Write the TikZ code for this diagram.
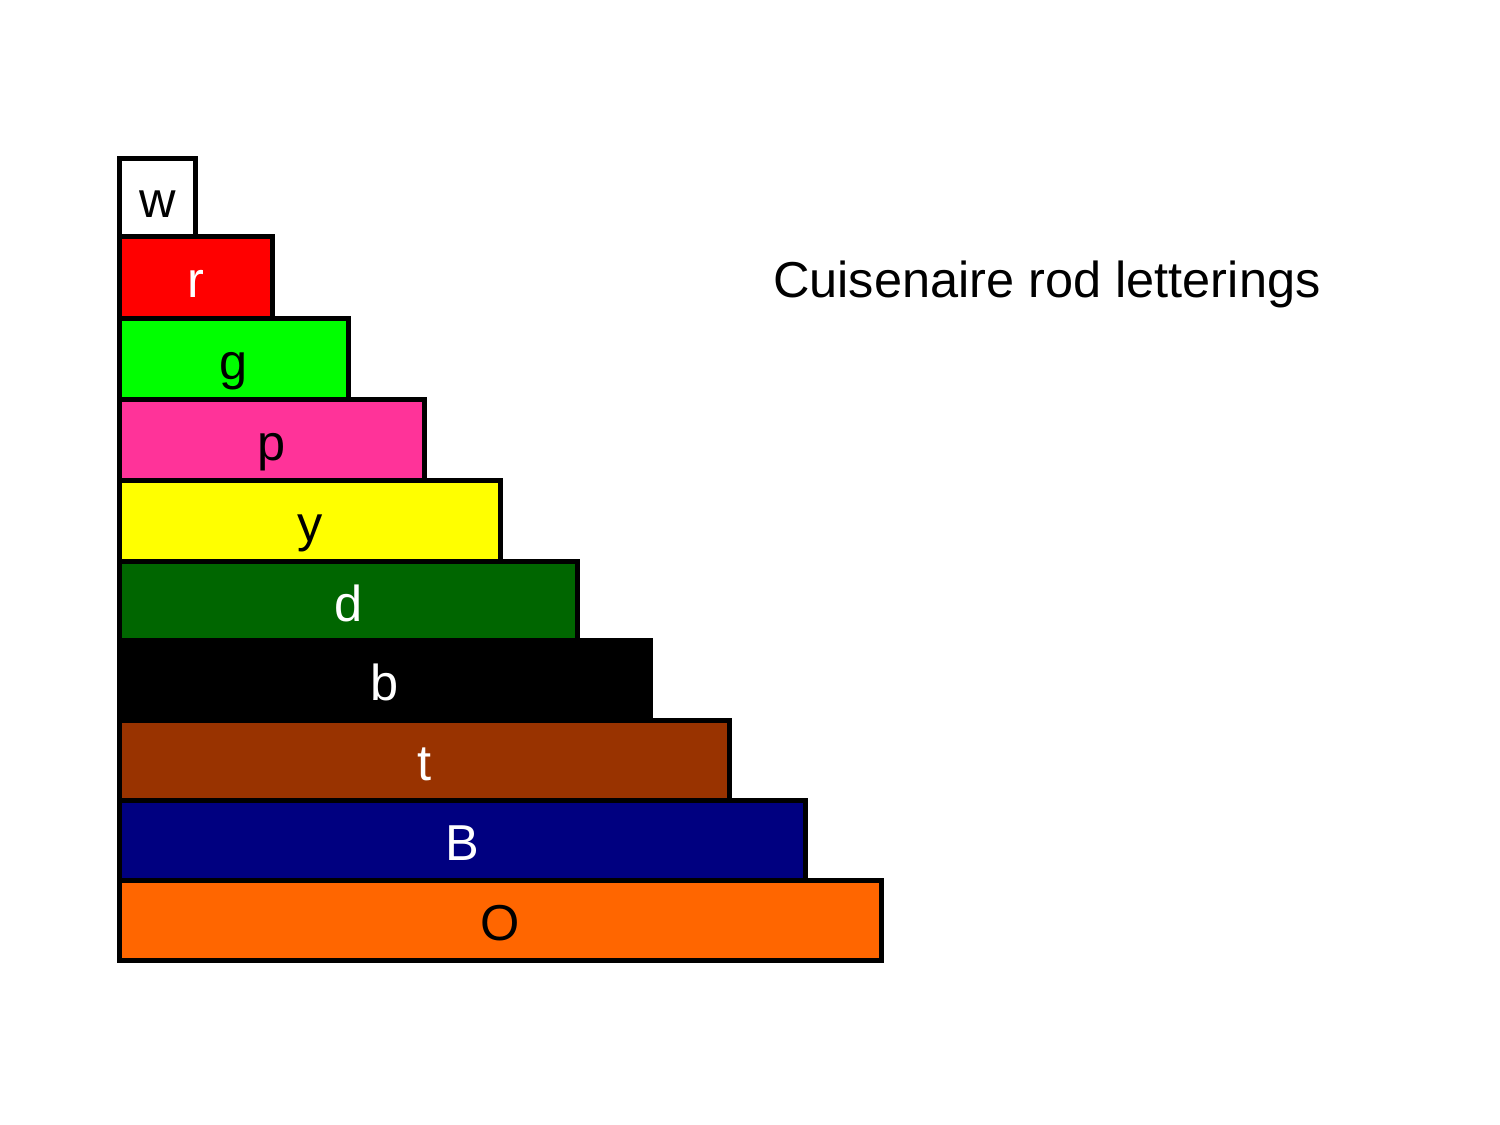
\documentclass[tikz,border=0pt]{standalone}
\usepackage{fontspec}
\setmainfont{Liberation Sans}
\definecolor{cw}{HTML}{FFFFFF}
\definecolor{cr}{HTML}{FF0000}
\definecolor{cg}{HTML}{00FF00}
\definecolor{cp}{HTML}{FF3399}
\definecolor{cy}{HTML}{FFFF00}
\definecolor{cd}{HTML}{006600}
\definecolor{cb}{HTML}{000000}
\definecolor{ct}{HTML}{993300}
\definecolor{cB}{HTML}{000080}
\definecolor{cO}{HTML}{FF6600}
\begin{document}
\begin{tikzpicture}[x=1pt,y=-1pt,
  rod/.style={draw=black, line width=5pt, inner sep=0pt, outer sep=0pt, anchor=north west},
  lab/.style={anchor=base, inner sep=0pt, font=\fontsize{50.5}{60}\selectfont},
  ttl/.style={anchor=base west, inner sep=0pt, font=\fontsize{50.5}{60}\selectfont}]
\useasboundingbox[fill=white] (0,0) rectangle (1500,1125);
\newcommand{\myrod}[6]{%
  \node[rod, fill=#2, minimum width={(#3-119.5)*1pt}, minimum height={(#5-#4)*1pt}] (#1) at (119.5,#4) {};
  \node[lab, text=#6] (#1lab) at ([yshift=-20pt]#1.center) {#1};}
\myrod{w}{cw}{195.5}{158.5}{236.7}{black}
\myrod{r}{cr}{272.3}{236.7}{318.5}{white}
\myrod{g}{cg}{348.3}{318.5}{399.5}{black}
\myrod{p}{cp}{424.5}{399.5}{480.5}{black}
\myrod{y}{cy}{500.5}{480.5}{561.5}{black}
\myrod{d}{cd}{577.5}{561.5}{640.5}{white}
\myrod{b}{cb}{650.5}{640.5}{720.5}{white}
\myrod{t}{ct}{729.5}{720.5}{800.5}{white}
\myrod{B}{cB}{805.5}{800.5}{880.5}{white}
\myrod{O}{cO}{881.3}{880.5}{960.2}{black}
\node[ttl] (title) at (773,297) {Cuisenaire rod letterings};
\end{tikzpicture}
\end{document}
